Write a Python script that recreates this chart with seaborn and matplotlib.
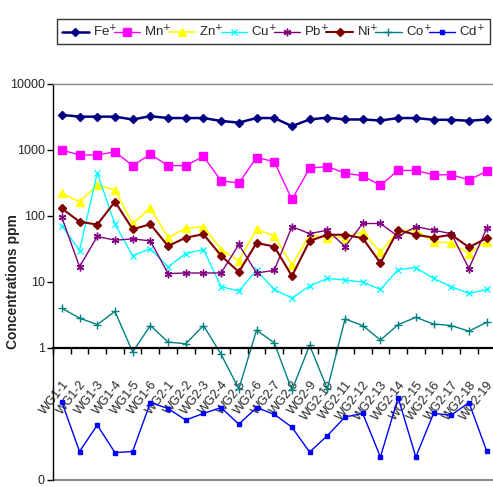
import numpy as np
import pandas as pd
import matplotlib
matplotlib.use('Agg')
import matplotlib.pyplot as plt
import matplotlib.transforms as mtransforms
import seaborn as sns
from matplotlib.ticker import FixedLocator, FixedFormatter

sns.set_style('white')
plt.rcParams['font.family'] = ['Liberation Sans', 'DejaVu Sans']

# sample wells
samples = ['WG1-1', 'WG1-2', 'WG1-3', 'WG1-4', 'WG1-5', 'WG1-6',
           'WG2-1', 'WG2-2', 'WG2-3', 'WG2-4', 'WG2-5', 'WG2-6', 'WG2-7',
           'WG2-8', 'WG2-9', 'WG2-10', 'WG2-11', 'WG2-12', 'WG2-13', 'WG2-14',
           'WG2-15', 'WG2-16', 'WG2-17', 'WG2-18', 'WG2-19']

# concentrations (ppm)
fe = [3400, 3200, 3200, 3200, 2900, 3250, 3050, 3050, 3050, 2750, 2600, 3050, 3050,
      2300, 2900, 3100, 2900, 2900, 2800, 3050, 3050, 2870, 2870, 2770, 2900]
mn = [1000, 840, 840, 940, 580, 860, 580, 580, 800, 340, 316, 767, 668,
      178, 530, 562, 446, 407, 292, 490, 490, 421, 421, 354, 473]
zn = [220, 165, 290, 250, 76, 134, 47, 65, 69, 31, 21, 63, 50,
      18, 52, 47, 47, 58, 28, 60, 61, 41, 39, 27, 41]
cu = [71, 30, 450, 75, 25, 32, 17, 27, 31, 8.5, 7.3, 15, 7.7,
      5.7, 8.7, 11.3, 10.7, 10, 7.7, 15.4, 16.5, 11.3, 8.5, 6.7, 7.7]
pb = [95, 17, 49, 43, 45, 42, 13.4, 13.7, 13.7, 13.7, 37, 13.7, 15,
      69, 54, 61, 34.5, 77, 77, 49, 69, 61, 54, 16, 65]
ni = [130, 82, 74, 165, 63, 75, 35, 47, 53, 25, 14.2, 39, 34.5,
      12.3, 42, 52, 52, 46, 19.4, 61, 52, 47, 52, 33.6, 46]
co = [4.0, 2.84, 2.26, 3.58, 0.87, 2.19, 1.23, 1.16, 2.19, 0.80, 0.24, 1.86, 1.2,
      0.23, 1.1, 0.24, 2.75, 2.19, 1.32, 2.26, 2.91, 2.31, 2.19, 1.8, 2.45]
cd = [0.152, 0.027, 0.068, 0.026, 0.027, 0.149, 0.121, 0.081, 0.102, 0.125, 0.070, 0.125, 0.099,
      0.063, 0.0265, 0.047, 0.09, 0.102, 0.0223, 0.177, 0.0223, 0.102, 0.096, 0.149, 0.0277]

metals = ['Fe', 'Mn', 'Zn', 'Cu', 'Pb', 'Ni', 'Co', 'Cd']
values = [fe, mn, zn, cu, pb, ni, co, cd]

styles = {
    'Fe': dict(color='#000080', marker='D', markersize=4.5, linewidth=1.8),
    'Mn': dict(color='#FF00FF', marker='s', markersize=5.5, linewidth=1.0),
    'Zn': dict(color='#FFFF00', marker='^', markersize=5.5, linewidth=1.2),
    'Cu': dict(color='#00FFFF', marker='x', markersize=4.5, linewidth=1.0),
    'Pb': dict(color='#800080', marker=(6, 2, 0), markersize=5.5, linewidth=1.0),
    'Ni': dict(color='#800000', marker='D', markersize=4.5, linewidth=1.5),
    'Co': dict(color='#008080', marker='+', markersize=5.5, linewidth=1.0),
    'Cd': dict(color='#0000FF', marker='s', markersize=3, linewidth=1.0),
}

rows = []
for m, vals in zip(metals, values):
    for i, v in enumerate(vals):
        rows.append({'metal': m, 'pos': i, 'ppm': v})
df = pd.DataFrame(rows)

fig = plt.figure(figsize=(4.93, 4.87), dpi=100)
ax = fig.add_axes([53 / 493, 7 / 487, (493 - 53) / 493, (480 - 84) / 487])

handles = []
for m in metals:
    st = styles[m]
    sub = df[df['metal'] == m]
    sns.lineplot(data=sub, x='pos', y='ppm', ax=ax, color=st['color'],
                 marker=st['marker'], markersize=st['markersize'],
                 markeredgecolor=st['color'], markeredgewidth=1.0,
                 linewidth=st['linewidth'], legend=False, clip_on=False)
    handles.append(ax.lines[-1])

ax.set_yscale('log')
ax.set_ylim(0.01, 10000)
ax.set_xlim(-0.5, 24.36)

# y ticks (Excel number format "0" shows 0.01 as 0)
ax.yaxis.set_major_locator(FixedLocator([0.01, 1, 10, 100, 1000, 10000]))
ax.yaxis.set_major_formatter(FixedFormatter(['0', '1', '10', '100', '1000', '10000']))
ax.yaxis.set_minor_locator(FixedLocator([]))
ax.tick_params(axis='y', which='major', direction='out', length=4, width=1,
               color='black', labelsize=9, pad=2, left=True)

# category axis crosses at 1
ax.spines['bottom'].set_position(('data', 1))
ax.spines['bottom'].set_color('black')
ax.spines['bottom'].set_linewidth(1.6)
ax.spines['left'].set_color('black')
ax.spines['left'].set_linewidth(1.0)
ax.spines['top'].set_color('#888888')
ax.spines['top'].set_linewidth(1.0)
ax.spines['right'].set_visible(False)
ax.axhline(0.01, color='#888888', linewidth=1.5, clip_on=False)

ax.set_xticks(range(len(samples)))
ax.set_xticklabels(samples, rotation=52, ha='right', rotation_mode='anchor', fontsize=9)
shift = mtransforms.ScaledTranslation(-7 / 100, 0, fig.dpi_scale_trans)
for lab in ax.get_xticklabels():
    lab.set_transform(lab.get_transform() + shift)
ax.xaxis.set_minor_locator(FixedLocator(np.arange(-0.5, 24.4, 1)))
ax.tick_params(axis='x', which='major', length=0, pad=22, bottom=True)
ax.tick_params(axis='x', which='minor', direction='out', length=4, width=1,
               color='black', bottom=True)
ax.set_xlabel('')
ax.set_ylabel('Concentrations ppm', fontsize=10, fontweight='bold')
ax.yaxis.set_label_coords(-0.075, 0.5)

labels = [m + '$^{+}$' for m in metals]
leg = fig.legend(handles, labels, loc='center', ncol=8,
                 bbox_to_anchor=(57 / 493, 1 - 50 / 487, 433 / 493, 37 / 487),
                 mode='expand', frameon=True, fancybox=False, edgecolor='black',
                 fontsize=9.5, handlelength=2.0, handletextpad=0.3,
                 columnspacing=0.6, borderaxespad=0, borderpad=0.4)
leg.get_frame().set_linewidth(1.0)

fig.savefig('out.png', dpi=100)
